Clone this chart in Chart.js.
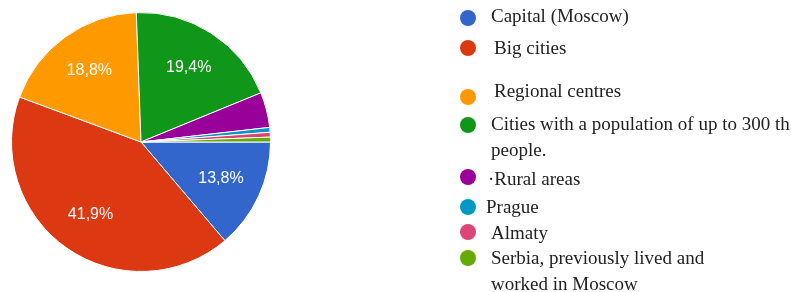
<!DOCTYPE html>
<html>
<head>
<meta charset="utf-8">
<script src="https://cdn.jsdelivr.net/npm/chart.js@4"></script>
<style>
  html, body { margin: 0; padding: 0; background: #ffffff; }
  #wrap { position: relative; width: 791px; height: 292px; }
</style>
</head>
<body>
<div id="wrap"><canvas id="pieChart" width="791" height="292"></canvas></div>
<script>
// --- data ---
const categories = [
    'Capital (Moscow)',
    'Big cities',
    'Regional centres',
    ['Cities with a population of up to 300 th', 'people.'],
    '\u00B7Rural areas',
    'Prague',
    'Almaty',
    ['Serbia, previously lived and', 'worked in Moscow']
];
const shares = [13.8, 41.9, 18.8, 19.4, 4.4, 0.6, 0.6, 0.6];
const sliceColors = ['#3366cc', '#dc3912', '#ff9900', '#109618', '#990099', '#0099c6', '#dd4477', '#66aa00'];

// legend layout (the original legend has uneven spacing)
const LEGEND = {
    dotX: 468, dotR: 8,
    dotY:  [18, 48, 97, 125, 177, 207, 232, 258],
    textX: [491, 494, 494, 491, 488, 486, 491, 491],
    textY: [17, 49, 92, 125, 180, 208, 234, 259],
    lineGap: 26,
    font: '19px "Liberation Serif", "DejaVu Serif", serif',
    color: '#222222'
};

// white percentage labels inside the big slices
const sliceLabels = {
    id: 'sliceLabels',
    afterDatasetsDraw(chart) {
        const { ctx } = chart;
        const meta = chart.getDatasetMeta(0);
        ctx.save();
        ctx.font = '16px "Liberation Sans", Arial, sans-serif';
        ctx.fillStyle = '#ffffff';
        ctx.textAlign = 'center';
        ctx.textBaseline = 'middle';
        meta.data.forEach((arc, i) => {
            if (shares[i] < 5) return;
            const mid = (arc.startAngle + arc.endAngle) / 2;
            const r = arc.outerRadius * 0.68;
            ctx.fillText(shares[i].toFixed(1).replace('.', ',') + '%', arc.x + Math.cos(mid) * r, arc.y + Math.sin(mid) * r);
        });
        ctx.restore();
    }
};

// hand-placed legend to the right of the pie
const sideLegend = {
    id: 'sideLegend',
    afterDraw(chart) {
        const { ctx } = chart;
        ctx.save();
        ctx.font = LEGEND.font;
        ctx.textBaseline = 'middle';
        categories.forEach((label, i) => {
            ctx.beginPath();
            ctx.fillStyle = sliceColors[i];
            ctx.arc(LEGEND.dotX, LEGEND.dotY[i], LEGEND.dotR, 0, Math.PI * 2);
            ctx.fill();
            ctx.fillStyle = LEGEND.color;
            const lines = Array.isArray(label) ? label : [label];
            lines.forEach((line, j) => ctx.fillText(line, LEGEND.textX[i], LEGEND.textY[i] + j * LEGEND.lineGap));
        });
        ctx.restore();
    }
};

new Chart(document.getElementById('pieChart').getContext('2d'), {
    type: 'pie',
    data: {
        labels: categories,
        datasets: [{ data: shares, backgroundColor: sliceColors, borderColor: '#ffffff', borderWidth: 1 }]
    },
    options: {
        responsive: false,
        animation: false,
        rotation: 90,
        layout: { padding: { left: 10, top: 12, bottom: 20, right: 519 } },
        plugins: { legend: { display: false }, tooltip: { enabled: false } }
    },
    plugins: [sliceLabels, sideLegend]
});
</script>
</body>
</html>
